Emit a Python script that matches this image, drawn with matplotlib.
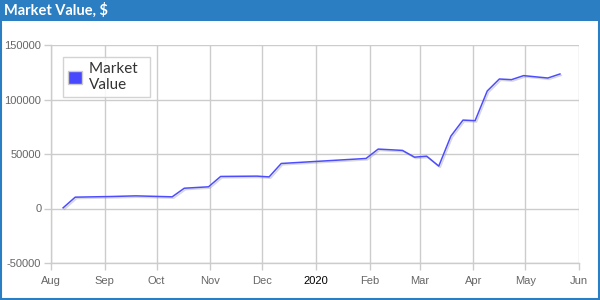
import matplotlib
matplotlib.use("Agg")
import matplotlib.pyplot as plt
import matplotlib.dates as mdates
import matplotlib.patheffects as pe
from matplotlib.patches import Patch, Rectangle
import pandas as pd

dates = ["2019-08-08", "2019-08-15", "2019-09-05", "2019-09-19", "2019-10-10",
         "2019-10-17", "2019-10-31", "2019-11-07", "2019-11-28", "2019-12-05",
         "2019-12-12", "2020-01-30", "2020-02-06", "2020-02-20", "2020-02-27",
         "2020-03-05", "2020-03-12", "2020-03-19", "2020-03-26", "2020-04-02",
         "2020-04-09", "2020-04-16", "2020-04-23", "2020-04-30", "2020-05-14",
         "2020-05-21"]
values = [600, 10400, 11000, 11600, 10700,
          18600, 19900, 29400, 29700, 29000,
          41300, 45900, 54500, 53300, 47100,
          48000, 38900, 66400, 81100, 80600,
          107800, 118800, 118200, 121900, 119700,
          123400]
series_name = "Market Value"
title = "Market Value, $"
month_labels = ["Aug", "Sep", "Oct", "Nov", "Dec", "2020", "Feb", "Mar", "Apr", "May", "Jun"]
month_ticks = ["2019-08-01", "2019-09-01", "2019-10-01", "2019-11-01", "2019-12-01",
               "2020-01-01", "2020-02-01", "2020-03-01", "2020-04-01", "2020-05-01",
               "2020-06-01"]
y_ticks = [-50000, 0, 50000, 100000, 150000]

x = pd.to_datetime(dates)
xt = pd.to_datetime(month_ticks)

fig = plt.figure(figsize=(6, 3), dpi=100)
fig.patch.set_facecolor("white")

blue = "#2b7ec1"
# title bar
fig.patches.append(Rectangle((0, 1 - 21 / 300), 1, 21 / 300, transform=fig.transFigure,
                             facecolor=blue, edgecolor="none", zorder=0))
# border
fig.patches.append(Rectangle((0.0015, 0.004), 0.996, 0.99, transform=fig.transFigure,
                             facecolor="none", edgecolor=blue, linewidth=1.5, zorder=1))
fig.text(4 / 600, 1 - 10.5 / 300, title, color="white", fontsize=10.5, fontweight="bold",
         family="Lato", va="center", ha="left")

ax = fig.add_axes([51 / 600, 1 - 263 / 300, 528 / 600, 218 / 300])
ax.set_xlim(xt[0], xt[-1])
ax.set_ylim(-50000, 150000)
ax.set_yticks(y_ticks)
ax.set_yticklabels([str(v) for v in y_ticks])
ax.set_xticks(xt)
ax.set_xticklabels(month_labels)
ax.grid(True, color="#cccccc", linewidth=1)
ax.set_axisbelow(True)
for s in ["top", "right"]:
    ax.spines[s].set_visible(False)
for s in ["left", "bottom"]:
    ax.spines[s].set_color("#cccccc")
    ax.spines[s].set_linewidth(1)
ax.tick_params(axis="both", colors="#cccccc", labelcolor="#666666", labelsize=8, length=5, width=1)
ax.tick_params(axis="x", pad=4)
ax.tick_params(axis="y", pad=2)
for lab in ax.get_xticklabels() + ax.get_yticklabels():
    lab.set_family("Liberation Sans")
for lab in ax.get_xticklabels():
    if lab.get_text() == "2020":
        lab.set_color("black")

ax.plot(x, values, color="#4d4dff", linewidth=1.1,
        path_effects=[pe.SimpleLineShadow(offset=(1, -1), shadow_color="gray", alpha=0.3),
                      pe.Normal()])

handle = Patch(facecolor="#4848ff", edgecolor="#cccccc", linewidth=1)
leg = ax.legend([handle], ["Market  \nValue"], loc="upper left",
                bbox_to_anchor=(12 / 528, 1 - 12 / 218),
                frameon=True, fancybox=False, edgecolor="#cccccc", framealpha=0.85,
                prop={"family": "Lato", "size": 11}, handlelength=0.95, handleheight=0.95,
                handletextpad=0.45, borderpad=0.3, borderaxespad=0)
leg.get_frame().set_linewidth(1)
for t in leg.get_texts():
    t.set_color("#333333")
    t.set_linespacing(1.25)

fig.savefig("out.png", dpi=100, facecolor="white")
